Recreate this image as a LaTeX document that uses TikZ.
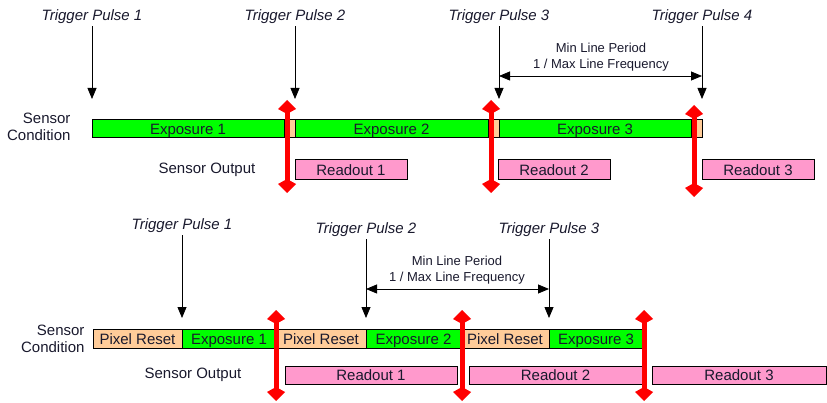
\documentclass[tikz,border=0pt]{standalone}
\usepackage{fontspec}
\setmainfont{Liberation Sans}
\usetikzlibrary{arrows.meta, positioning}

\definecolor{expgreen}{RGB}{0,255,0}
\definecolor{resetpeach}{RGB}{255,204,153}
\definecolor{readpink}{RGB}{255,153,204}
\definecolor{inkcol}{RGB}{25,25,45}

\tikzset{
  cell/.style={draw=black, line width=1pt, inner sep=0pt, outer sep=0pt, anchor=west,
    minimum height=18pt, text height=11pt, text depth=0pt},
  expo/.style={cell, fill=expgreen},
  pixreset/.style={cell, fill=resetpeach},
  readout/.style={cell, fill=readpink, minimum height=20pt},
  trig/.style={font=\fontsize{15}{17}\selectfont\itshape, inner sep=2pt},
  trigarrow/.style={-{Triangle[width=9pt,length=11pt]}, line width=0.8pt},
  period/.style={{Triangle[width=9pt,length=11pt]}-{Triangle[width=9pt,length=11pt]}, line width=0.8pt},
  resetarrow/.style={{Kite[length=14pt 0,width=18pt 0,inset=5pt 0]}-{Kite[length=14pt 0,width=18pt 0,inset=5pt 0]}, red, line width=5pt},
}

\begin{document}
\begin{tikzpicture}[x=1pt, y=-1pt, font=\fontsize{15}{17}\selectfont, text=inkcol]
  \useasboundingbox (0,0) rectangle (827,403);

  % free running: trigger ends exposure
  \node[trig] (tp1) at (92,17) {Trigger Pulse 1};
  \node[trig] (tp2) at (295,17) {Trigger Pulse 2};
  \node[trig] (tp3) at (499,17) {Trigger Pulse 3};
  \node[trig] (tp4) at (702,17) {Trigger Pulse 4};
  \coordinate (tp1e) at (92,99);
  \coordinate (tp2e) at (295,99);
  \coordinate (tp3e) at (499,99);
  \coordinate (tp4e) at (702,99);
  \draw[trigarrow] (tp1.south) -- (tp1e);
  \draw[trigarrow] (tp2.south) -- (tp2e);
  \draw[trigarrow] (tp3.south) -- (tp3e);
  \draw[trigarrow] (tp4.south) -- (tp4e);

  \node[align=center, font=\fontsize{13}{16}\selectfont] (mlpA) at (601,57) {Min Line Period\\1 / Max Line Frequency};
  \coordinate (pa1) at (499,76);
  \coordinate (pb1) at (702,76);
  \draw[period] (pa1) -- (pb1);

  \node[anchor=east, align=right] (condA) at (74,127) {Sensor\\Condition};
  \node[expo, minimum width=192pt] (exp1) at (92,129) {Exposure 1};
  \node[pixreset, minimum width=11pt] (gap1) at (exp1.east) {};
  \node[expo, minimum width=193pt] (exp2) at (gap1.east) {Exposure 2};
  \node[pixreset, minimum width=11pt] (gap2) at (exp2.east) {};
  \node[expo, minimum width=192pt] (exp3) at (gap2.east) {Exposure 3};
  \node[pixreset, minimum width=11pt] (gap3) at (exp3.east) {};

  \node (outA) at (207,170) {Sensor Output};
  \node[readout, minimum width=112pt] (ro1) at (295,170) {Readout 1};
  \node[readout, minimum width=112pt] (ro2) at (498,170) {Readout 2};
  \node[readout, minimum width=112pt] (ro3) at (702,170) {Readout 3};

  \coordinate (ra1) at (287,100);
  \coordinate (rb1) at (287,193);
  \coordinate (ra2) at (491,100);
  \coordinate (rb2) at (491,193);
  \coordinate (ra3) at (694,105);
  \coordinate (rb3) at (694,197);
  \draw[resetarrow] (ra1) -- (rb1);
  \draw[resetarrow] (ra2) -- (rb2);
  \draw[resetarrow] (ra3) -- (rb3);

  % triggered: trigger ends pixel reset
  \node[trig] (tq1) at (182,226) {Trigger Pulse 1};
  \node[trig] (tq2) at (366,230) {Trigger Pulse 2};
  \node[trig] (tq3) at (549,230) {Trigger Pulse 3};
  \coordinate (tq1e) at (182,318);
  \coordinate (tq2e) at (366,318);
  \coordinate (tq3e) at (549,318);
  \draw[trigarrow] (tq1.south) -- (tq1e);
  \draw[trigarrow] (tq2.south) -- (tq2e);
  \draw[trigarrow] (tq3.south) -- (tq3e);

  \node[align=center, font=\fontsize{13}{16}\selectfont] (mlpB) at (457,270) {Min Line Period\\1 / Max Line Frequency};
  \coordinate (pa2) at (366,289);
  \coordinate (pb2) at (549,289);
  \draw[period] (pa2) -- (pb2);

  \node[anchor=east, align=right] (condB) at (88,339) {Sensor\\Condition};
  \node[pixreset, minimum width=89pt, minimum height=19pt] (rs1) at (93,338.5) {Pixel Reset};
  \node[expo, minimum width=94pt, minimum height=19pt] (ex1) at (rs1.east) {Exposure 1};
  \node[pixreset, minimum width=90pt, minimum height=19pt] (rs2) at (ex1.east) {Pixel Reset};
  \node[expo, minimum width=95pt, minimum height=19pt] (ex2) at (rs2.east) {Exposure 2};
  \node[pixreset, minimum width=88pt, minimum height=19pt] (rs3) at (ex2.east) {Pixel Reset};
  \node[expo, minimum width=94pt, minimum height=19pt] (ex3) at (rs3.east) {Exposure 3};

  \node (outB) at (193,375) {Sensor Output};
  \node[readout, minimum width=172pt, minimum height=18pt] (rd1) at (285,375) {Readout 1};
  \node[readout, minimum width=173pt, minimum height=18pt] (rd2) at (469,375) {Readout 2};
  \node[readout, minimum width=174pt, minimum height=18pt] (rd3) at (652,375) {Readout 3};

  \coordinate (rc1) at (276,310);
  \coordinate (rd1e) at (276,401);
  \coordinate (rc2) at (462,310);
  \coordinate (rd2e) at (462,401);
  \coordinate (rc3) at (644,310);
  \coordinate (rd3e) at (644,401);
  \draw[resetarrow] (rc1) -- (rd1e);
  \draw[resetarrow] (rc2) -- (rd2e);
  \draw[resetarrow] (rc3) -- (rd3e);
\end{tikzpicture}
\end{document}
